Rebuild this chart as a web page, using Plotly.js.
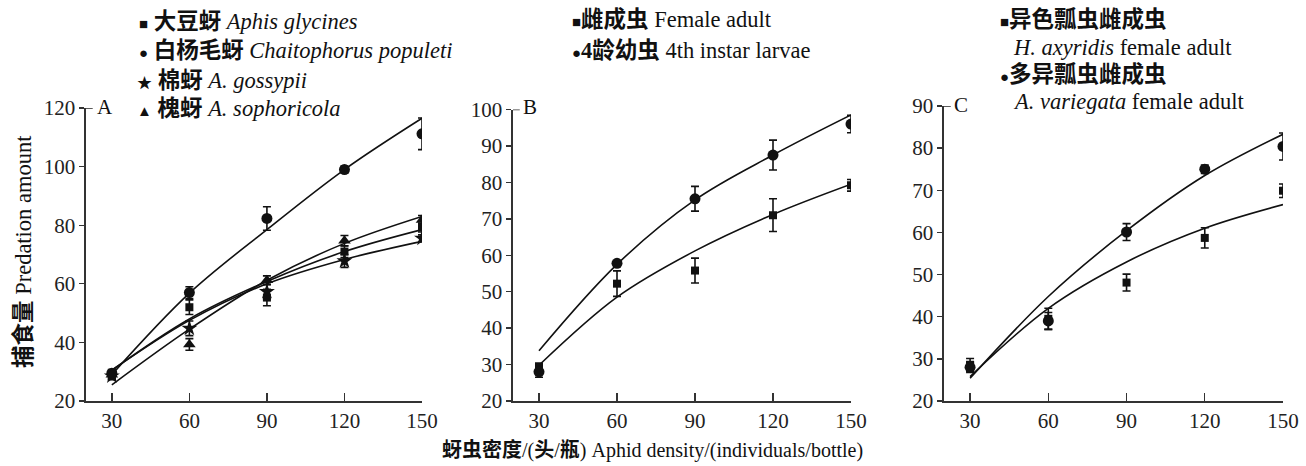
<!DOCTYPE html>
<html><head><meta charset="utf-8">
<script src="https://cdn.plot.ly/plotly-3.0.1.min.js"></script>
<style>html,body{margin:0;padding:0;background:#fff;}</style>
</head><body><div id="chart" style="width:1306px;height:466px;"></div>
<script>
// ---- data ----
const density = [30, 60, 90, 120, 150];
const xTicks = [30, 60, 90, 120, 150];

// Panel A: aphid species (observed mean, SE, fitted curve)
const aGlycinesObs = [28.5, 52.0, 55.3, 71.0, 79.2];
const aGlycinesErr = [1.2, 2.5, 2.8, 2.0, 1.5];
const aGlycinesFit = [30.5, 48.0, 60.8, 71.0, 78.5];
const cPopuletiObs = [29.5, 57.0, 82.3, 99.0, 111.2];
const cPopuletiErr = [1.2, 2.0, 4.0, 1.2, 5.4];
const cPopuletiFit = [29.0, 56.8, 78.5, 99.0, 116.5];
const aGossypiiObs = [28.5, 44.8, 57.3, 67.8, 75.5];
const aGossypiiErr = [1.0, 2.5, 2.5, 2.2, 1.2];
const aGossypiiFit = [30.5, 47.5, 60.0, 68.3, 74.5];
const aSophoricolaObs = [29.0, 39.3, 61.2, 74.7, 81.8];
const aSophoricolaErr = [1.0, 2.0, 1.5, 1.8, 1.5];
const aSophoricolaFit = [25.5, 44.5, 61.2, 73.8, 83.0];

// Panel B: developmental stage
const femaleObs = [29.2, 52.2, 55.8, 71.0, 79.2];
const femaleErr = [1.2, 3.5, 3.4, 4.5, 1.6];
const femaleFit = [29.8, 48.5, 61.2, 71.2, 79.5];
const larvaObs = [28.0, 57.8, 75.5, 87.5, 96.0];
const larvaErr = [1.5, 0.6, 3.4, 4.1, 2.4];
const larvaFit = [33.8, 57.5, 75.2, 87.5, 98.5];

// Panel C: ladybird species
const hAxyridisObs = [28.6, 39.5, 48.1, 58.7, 69.9];
const hAxyridisErr = [1.5, 2.5, 2.0, 2.4, 1.6];
const hAxyridisFit = [25.8, 42.0, 53.0, 61.0, 66.6];
const aVariegataObs = [28.0, 39.0, 60.1, 75.0, 80.4];
const aVariegataErr = [1.2, 2.0, 2.0, 1.0, 3.2];
const aVariegataFit = [25.4, 44.8, 60.4, 73.5, 83.3];

// ---- styling helpers ----
const ink = '#111';
function fit(x, y, xa, ya) {
  return {x: x, y: y, xaxis: xa, yaxis: ya, mode: 'lines', type: 'scatter',
    line: {color: ink, width: 1.6, shape: 'spline', smoothing: 1.0},
    showlegend: false, hoverinfo: 'skip'};
}
function obs(x, y, e, sym, size, xa, ya) {
  return {x: x, y: y, xaxis: xa, yaxis: ya, mode: 'markers', type: 'scatter',
    marker: {symbol: sym, size: size, color: ink, line: {width: 0}},
    error_y: {type: 'data', array: e, visible: true, color: ink, thickness: 1.6, width: 4},
    showlegend: false};
}

const data = [
  fit(density, cPopuletiFit, 'x', 'y'),
  fit(density, aGlycinesFit, 'x', 'y'),
  fit(density, aGossypiiFit, 'x', 'y'),
  fit(density, aSophoricolaFit, 'x', 'y'),
  obs(density, aGlycinesObs, aGlycinesErr, 'square', 8, 'x', 'y'),
  obs(density, cPopuletiObs, cPopuletiErr, 'circle', 11, 'x', 'y'),
  obs(density, aGossypiiObs, aGossypiiErr, 'star', 12, 'x', 'y'),
  obs(density, aSophoricolaObs, aSophoricolaErr, 'triangle-up', 11, 'x', 'y'),

  fit(density, femaleFit, 'x2', 'y2'),
  fit(density, larvaFit, 'x2', 'y2'),
  obs(density, femaleObs, femaleErr, 'square', 8, 'x2', 'y2'),
  obs(density, larvaObs, larvaErr, 'circle', 11, 'x2', 'y2'),

  fit(density, hAxyridisFit, 'x3', 'y3'),
  fit(density, aVariegataFit, 'x3', 'y3'),
  obs(density, hAxyridisObs, hAxyridisErr, 'square', 8, 'x3', 'y3'),
  obs(density, aVariegataObs, aVariegataErr, 'circle', 11, 'x3', 'y3')
];

const serif = 'Liberation Serif, Noto Sans CJK SC, serif';
const tickFont = {family: serif, size: 21, color: '#222'};
function xax(dom, anchor) {
  return {domain: dom, anchor: anchor, range: [20, 150], tickvals: xTicks, ticktext: xTicks.map(String),
    showline: true, linecolor: '#333', linewidth: 1.6, ticks: 'inside', ticklen: 8, tickwidth: 1.4,
    tickcolor: '#333', showgrid: false, zeroline: false, tickfont: tickFont, fixedrange: true};
}
function yax(dom, anchor, rng, dt) {
  return {domain: dom, anchor: anchor, range: rng, dtick: dt, tick0: 20,
    showline: true, linecolor: '#333', linewidth: 1.6, ticks: 'outside', ticklen: 5, tickwidth: 1.4,
    tickcolor: '#333', showgrid: false, zeroline: false, tickfont: tickFont, fixedrange: true};
}
const W = 1306, H = 466;
const px = v => v / W, py = v => 1 - v / H;

const legFont = {family: serif, size: 22.5, color: '#111'};
function note(x, y, text, extra) {
  return Object.assign({xref: 'paper', yref: 'paper', x: px(x), y: py(y), xanchor: 'left', yanchor: 'middle',
    showarrow: false, text: text, font: legFont}, extra || {});
}
const sq = '<span style="font-size:15px">■</span>';
const ci = '<span style="font-size:15px">●</span>';
const st = '<span style="font-size:15px">★</span>';
const tr = '<span style="font-size:15px">▲</span>';
const labFont = {family: serif, size: 21, color: '#111'};

const layout = {
  width: W, height: H, margin: {l: 0, r: 0, t: 0, b: 0},
  paper_bgcolor: '#fff', plot_bgcolor: '#fff', showlegend: false,
  xaxis: xax([px(86), px(422)], 'y'),
  yaxis: yax([py(401), py(108)], 'x', [20, 120], 20),
  xaxis2: xax([px(513), px(851)], 'y2'),
  yaxis2: yax([py(401), py(109.5)], 'x2', [20, 100], 10),
  xaxis3: xax([px(944), px(1283)], 'y3'),
  yaxis3: yax([py(401), py(106)], 'x3', [20, 90], 10),
  shapes: [
    {type: 'line', xref: 'x', yref: 'y', x0: 20, x1: 22.6, y0: 120, y1: 120, line: {color: '#333', width: 1.6}},
    {type: 'line', xref: 'x2', yref: 'y2', x0: 20, x1: 22.6, y0: 100, y1: 100, line: {color: '#333', width: 1.6}},
    {type: 'line', xref: 'x3', yref: 'y3', x0: 20, x1: 22.6, y0: 90, y1: 90, line: {color: '#333', width: 1.6}}
  ],
  annotations: [
    note(95, 107, 'A', {font: labFont}),
    note(521, 107, 'B', {font: labFont}),
    note(952, 105, 'C', {font: labFont}),

    note(137, 21, sq + ' <b>大豆蚜</b> <i>Aphis glycines</i>'),
    note(137, 51, ci + ' <b>白杨毛蚜</b> <i>Chaitophorus populeti</i>'),
    note(135, 81, st + ' <b>棉蚜</b> <i>A. gossypii</i>'),
    note(135, 109, tr + ' <b>槐蚜</b> <i>A. sophoricola</i>'),

    note(570, 20, sq + '<b>雌成虫</b> Female adult'),
    note(570, 51, ci + '<b>4龄幼虫</b> 4th instar larvae'),

    note(998, 19, sq + '<b>异色瓢虫雌成虫</b>'),
    note(1011, 47, '<i>H. axyridis</i> female adult'),
    note(998, 74, ci + '<b>多异瓢虫雌成虫</b>'),
    note(1011, 101, '<i>A. variegata</i> female adult'),

    {xref: 'paper', yref: 'paper', x: px(23), y: py(252), xanchor: 'center', yanchor: 'middle',
      textangle: -90, showarrow: false, text: '<b>捕食量</b> Predation amount',
      font: {family: serif, size: 22.5, color: '#111'}},
    {xref: 'paper', yref: 'paper', x: px(652), y: py(450), xanchor: 'center', yanchor: 'middle',
      showarrow: false, text: '<b>蚜虫密度</b>/(<b>头</b>/<b>瓶</b>) Aphid density/(individuals/bottle)',
      font: {family: serif, size: 20, color: '#111'}}
  ]
};

Plotly.newPlot('chart', data, layout, {staticPlot: true, displayModeBar: false});
</script></body></html>
